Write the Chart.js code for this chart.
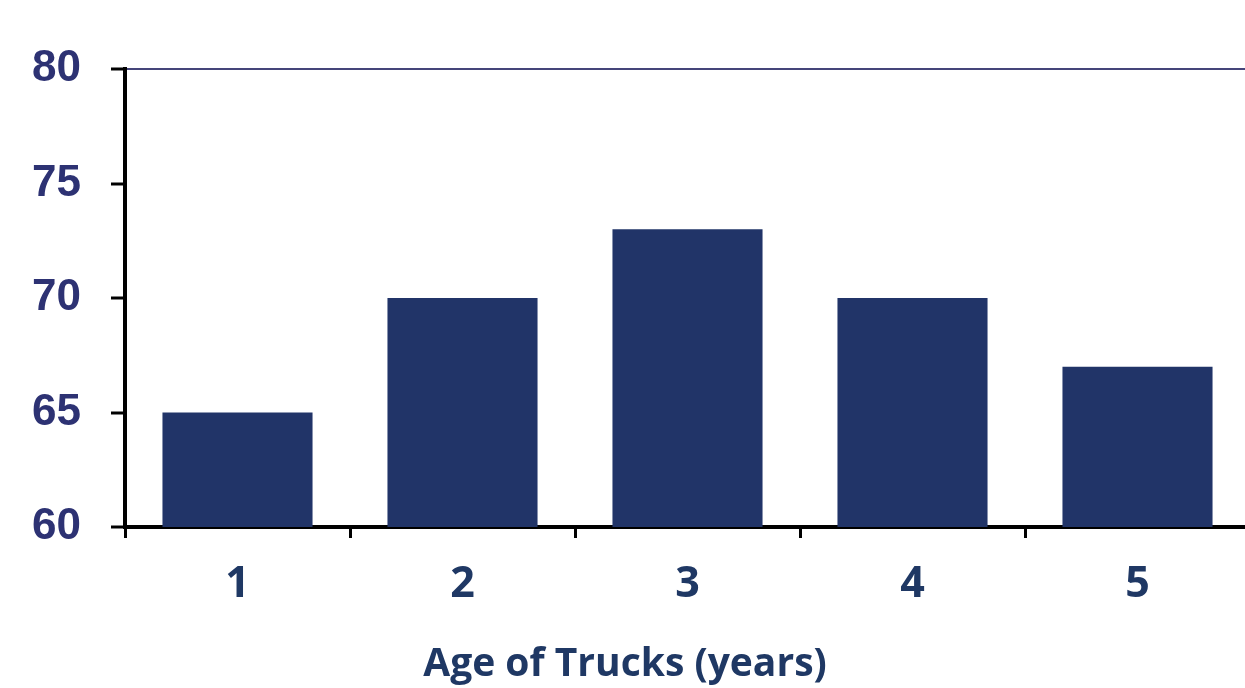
<!DOCTYPE html>
<html>
<head>
<meta charset="utf-8">
<script src="https://cdn.jsdelivr.net/npm/chart.js@4/dist/chart.umd.min.js"></script>
<style>
  html, body { margin: 0; padding: 0; background: #fff; overflow: hidden; }
  .wrap { width: 1250px; height: 688px; position: relative; }
</style>
</head>
<body>
<div class="wrap"><canvas id="chart"></canvas></div>
<script>
const ages = ["1", "2", "3", "4", "5"]
const truckValues = [65, 70, 73, 70, 67]
const yTicks = [60, 65, 70, 75, 80]
const xTitle = "Age of Trucks (years)"

const barColor = "#213468"
const labelColor = "#1f3864"
const yLabelColor = "#2d3273"

const ctx = document.getElementById("chart")

// title sits under the whole canvas (centred on the page, not the plot)
const titleFontSize = 39
const titleBox = titleFontSize * 1.2

new Chart(ctx, {
  type: "bar",
  data: {
    labels: ages,
    datasets: [{
      data: truckValues,
      backgroundColor: barColor,
      borderWidth: 0,
      barPercentage: 0.667,
      categoryPercentage: 1
    }]
  },
  options: {
    responsive: true,
    maintainAspectRatio: false,
    animation: false,
    layout: { padding: { top: 69, left: 0, right: 0, bottom: 0 } },
    plugins: {
      legend: { display: false },
      tooltip: { enabled: false },
      title: {
        display: true,
        position: "bottom",
        text: xTitle,
        color: labelColor,
        padding: 0,
        font: { family: "Open Sans", weight: "bold", size: titleFontSize, lineHeight: 1.2 }
      }
    },
    scales: {
      x: {
        offset: true,
        border: { display: true, color: "#000", width: 4 },
        grid: {
          offset: true,
          drawOnChartArea: false,
          drawTicks: true,
          tickLength: 11,
          color: "#000",
          lineWidth: 3
        },
        ticks: {
          color: labelColor,
          padding: 21,
          font: { family: "Open Sans", weight: "bold", size: 43 }
        },
        afterFit: (scale) => { scale.height = 161 - titleBox }
      },
      y: {
        min: 60,
        max: 80,
        border: { display: true, color: "#000", width: 4 },
        afterBuildTicks: (scale) => {
          scale.ticks = yTicks.map(v => ({ value: v }))
        },
        grid: {
          drawOnChartArea: true,
          drawTicks: true,
          tickLength: 14,
          tickColor: "#000",
          tickWidth: 3,
          color: (c) => (c.tick && c.tick.value === 80) ? "#45457a" : "rgba(0,0,0,0)",
          lineWidth: 2
        },
        ticks: {
          color: yLabelColor,
          padding: 30,
          font: { family: "Liberation Sans", weight: "bold", size: 44 }
        },
        afterFit: (scale) => { scale.width = 125 }
      }
    }
  }
})
</script>
</body>
</html>
